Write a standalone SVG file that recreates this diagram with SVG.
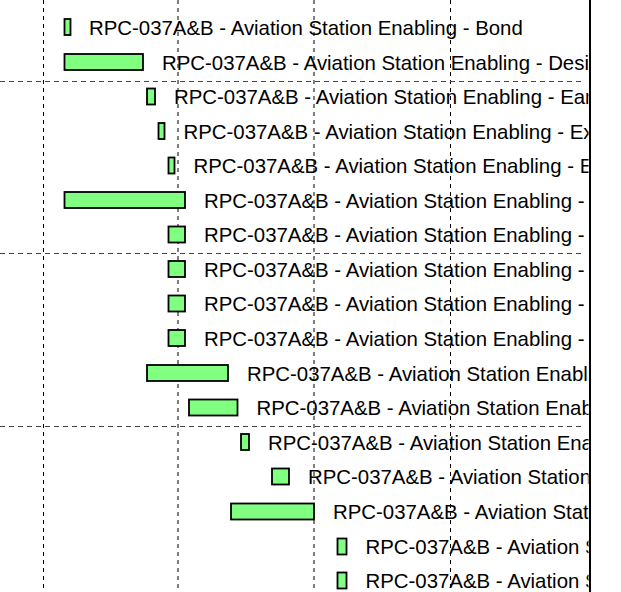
<svg xmlns="http://www.w3.org/2000/svg" width="621" height="592" viewBox="0 0 621 592">
<style>
.bg{fill:#ffffff}
.vg{stroke:#000;stroke-width:1;stroke-dasharray:4,4;fill:none}
.hg{stroke:#444;stroke-width:1;stroke-dasharray:5,4;fill:none}
.bar{fill:#80ff80;stroke:#000;stroke-width:1.8}
.lbl{font-family:"Liberation Sans",Arial,sans-serif;font-size:20.4px;fill:#000}
.border{stroke:#000;stroke-width:2;fill:none}
</style>
<defs>
<clipPath id="clip"><rect x="0" y="0" width="588.5" height="592"/></clipPath>
</defs>
<rect class="bg" x="0" y="0" width="621" height="592"/>
<g id="grid">
<line class="vg" x1="43.5" y1="0" x2="43.5" y2="592"/>
<line class="vg" x1="178" y1="0" x2="178" y2="592"/>
<line class="vg" x1="314" y1="0" x2="314" y2="592"/>
<line class="vg" x1="450.5" y1="0" x2="450.5" y2="592"/>
<line class="hg" x1="0" y1="81.5" x2="585" y2="81.5"/>
<line class="hg" x1="0" y1="253.5" x2="585" y2="253.5"/>
<line class="hg" x1="0" y1="426.5" x2="585" y2="426.5"/>
</g>
<g clip-path="url(#clip)">
<g id="task1"><rect class="bar" x="64.5" y="19" width="6" height="16"/><text class="lbl" x="89" y="35">RPC-037A&amp;B - Aviation Station Enabling - Bond</text></g>
<g id="task2"><rect class="bar" x="64.5" y="54" width="78.5" height="16"/><text class="lbl" x="162" y="69.5">RPC-037A&amp;B - Aviation Station Enabling - Desi</text></g>
<g id="task3"><rect class="bar" x="147" y="88.5" width="8" height="16"/><text class="lbl" x="174" y="104">RPC-037A&amp;B - Aviation Station Enabling - Ear</text></g>
<g id="task4"><rect class="bar" x="158.5" y="123" width="6" height="16"/><text class="lbl" x="183.5" y="138.5">RPC-037A&amp;B - Aviation Station Enabling - Ex</text></g>
<g id="task5"><rect class="bar" x="168.5" y="157.5" width="6" height="16"/><text class="lbl" x="193.5" y="173">RPC-037A&amp;B - Aviation Station Enabling - E</text></g>
<g id="task6"><rect class="bar" x="64.5" y="192" width="120.5" height="16"/><text class="lbl" x="204" y="207.5">RPC-037A&amp;B - Aviation Station Enabling -</text></g>
<g id="task7"><rect class="bar" x="168.5" y="226.5" width="16.5" height="16"/><text class="lbl" x="204" y="242">RPC-037A&amp;B - Aviation Station Enabling -</text></g>
<g id="task8"><rect class="bar" x="168.5" y="261" width="16.5" height="16"/><text class="lbl" x="204" y="276.5">RPC-037A&amp;B - Aviation Station Enabling -</text></g>
<g id="task9"><rect class="bar" x="168.5" y="295.5" width="16.5" height="16"/><text class="lbl" x="204" y="311">RPC-037A&amp;B - Aviation Station Enabling -</text></g>
<g id="task10"><rect class="bar" x="168.5" y="330" width="16.5" height="16"/><text class="lbl" x="204" y="345.5">RPC-037A&amp;B - Aviation Station Enabling -</text></g>
<g id="task11"><rect class="bar" x="147" y="365" width="81" height="16"/><text class="lbl" x="247" y="380.5">RPC-037A&amp;B - Aviation Station Enabl</text></g>
<g id="task12"><rect class="bar" x="189" y="399.5" width="48.5" height="16"/><text class="lbl" x="256.5" y="415">RPC-037A&amp;B - Aviation Station Enab</text></g>
<g id="task13"><rect class="bar" x="241" y="434" width="8" height="16"/><text class="lbl" x="268" y="449.5">RPC-037A&amp;B - Aviation Station Ena</text></g>
<g id="task14"><rect class="bar" x="272" y="468.5" width="17" height="16"/><text class="lbl" x="308" y="484">RPC-037A&amp;B - Aviation Station</text></g>
<g id="task15"><rect class="bar" x="231" y="503.5" width="83" height="16"/><text class="lbl" x="333" y="519">RPC-037A&amp;B - Aviation Stat</text></g>
<g id="task16"><rect class="bar" x="337.5" y="538.5" width="9" height="16"/><text class="lbl" x="365.5" y="554">RPC-037A&amp;B - Aviation S</text></g>
<g id="task17"><rect class="bar" x="337.5" y="572.5" width="9" height="16"/><text class="lbl" x="365.5" y="588">RPC-037A&amp;B - Aviation S</text></g>
</g>
<line class="border" x1="590" y1="0" x2="590" y2="592"/>
</svg>
